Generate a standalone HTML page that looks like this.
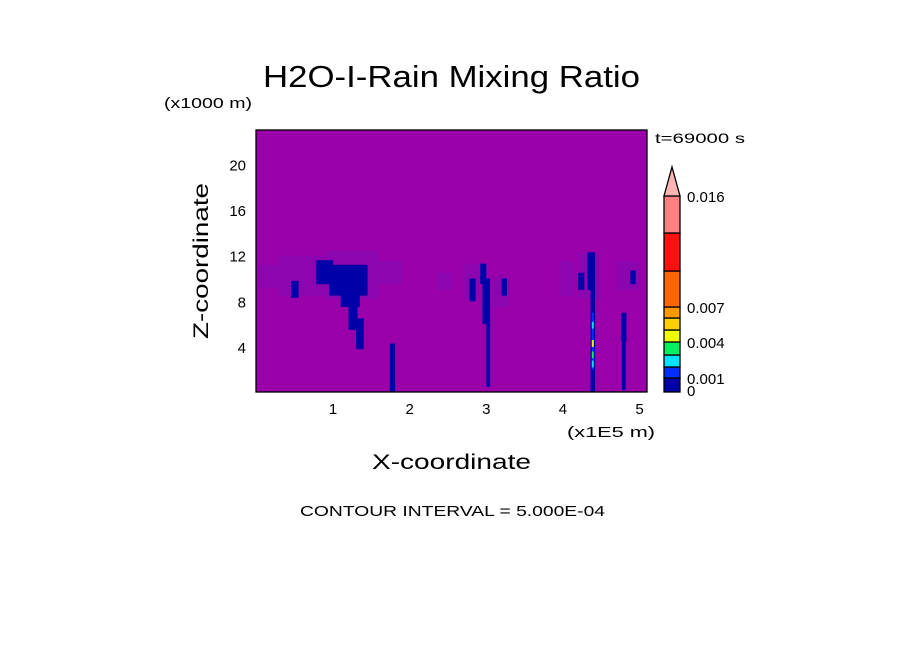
<!DOCTYPE html>
<html><head><meta charset="utf-8"><style>
html,body{margin:0;padding:0;background:#fff;}
svg{display:block;font-family:"Liberation Sans",sans-serif;}
</style></head><body>
<svg id="chart" width="904" height="654" viewBox="0 0 904 654">
<rect x="0" y="0" width="904" height="654" fill="#fff"/>
<text x="263" y="87" font-size="31" textLength="377" lengthAdjust="spacingAndGlyphs" fill="#000">H2O-I-Rain Mixing Ratio</text>
<text x="164" y="108" font-size="15" textLength="88" lengthAdjust="spacingAndGlyphs" fill="#000">(x1000 m)</text>
<text x="655" y="143" font-size="14" textLength="90" lengthAdjust="spacingAndGlyphs" fill="#000">t=69000 s</text>
<text transform="translate(208,261) rotate(-90)" font-size="21" text-anchor="middle" textLength="156" lengthAdjust="spacingAndGlyphs" fill="#000">Z-coordinate</text>
<text x="372" y="469" font-size="21" textLength="159" lengthAdjust="spacingAndGlyphs" fill="#000">X-coordinate</text>
<text x="567" y="437" font-size="15" textLength="88" lengthAdjust="spacingAndGlyphs" fill="#000">(x1E5 m)</text>
<text x="300" y="516" font-size="15" textLength="305" lengthAdjust="spacingAndGlyphs" fill="#000">CONTOUR INTERVAL = 5.000E-04</text>
<g id="plot"></g>
<g id="ticks"></g>
<g id="cbar"></g>
</svg>
<script>
const xTicks = [1,2,3,4,5];
const yTicks = [4,8,12,16,20];
// light (trace) regions: [x0,x1,z0,z1] in 1e5 m / km
const lightRegions = [[0,0.3,9.2,11.2],[0.3,0.9,8.5,12],[0.9,1.6,8.2,12.4],[1.6,1.9,9.5,11.5],[2.35,2.55,9,10.5],[2.7,2.9,8.3,11.3],[3.1,3.3,7.5,10.2],[3.95,4.15,8.5,11.5],[4.2,4.5,8.2,12.3],[4.7,5.0,9,11.5]];
// dark blue regions (0 - 0.001)
const darkRegions = [[0.45,0.55,8.3,9.8],[0.78,1.0,9.5,11.6],[0.95,1.45,8.5,11.2],[1.1,1.35,7.5,9.5],[1.2,1.32,5.5,8],[1.3,1.4,3.8,6.5],[1.74,1.81,0.1,4.3],[2.78,2.86,8,10],[2.92,3.0,9.5,11.3],[2.95,3.05,6,10],[3.0,3.05,0.5,6.5],[3.2,3.27,8.5,10],[4.2,4.28,9,10.5],[4.32,4.42,9,12.3],[4.36,4.42,0,9.5],[4.88,4.95,9.5,10.7],[4.77,4.82,0.2,5.2],[4.76,4.83,4.5,7]];
// higher-value cells: [x, z0, z1, levelIndex]
const hotCells = [[4.39,2,7,1],[4.39,5.6,6.2,2],[4.39,4.0,4.6,4],[4.39,3.0,3.6,3],[4.39,2.2,2.8,2]];
const levelColors = ["#0000a8","#0030ff","#00e0ff","#00f060","#f0ff00","#ffd000","#ff9900","#ff6600","#ff1010","#ff8080"];
const levelBounds = [0,0.001,0.002,0.003,0.004,0.005,0.006,0.007,0.01,0.013,0.016];
const cbLabels = [[0,"0"],[0.001,"0.001"],[0.004,"0.004"],[0.007,"0.007"],[0.016,"0.016"]];

const X0=256,X1=647,Y0=392,Y1=130;
const xs = v => 256.5 + v*76.6;
const ys = v => 392.5 - v*11.4;
const NS="http://www.w3.org/2000/svg";
function mk(tag, attrs, parent){const e=document.createElementNS(NS,tag);for(const k in attrs)e.setAttribute(k,attrs[k]);parent.appendChild(e);return e;}
const plot=document.getElementById('plot');
const bg=mk('rect',{x:X0,y:Y1,width:X1-X0,height:Y0-Y1,fill:"#9900aa"},plot);


const clip=mk('g',{},plot);
lightRegions.forEach(r=>{
  const e=mk('rect',{x:xs(r[0]),y:ys(r[3]),width:xs(r[1])-xs(r[0]),height:ys(r[2])-ys(r[3]),fill:"#8c06b0"},clip);
  
  
});
darkRegions.forEach(r=>{
  const e=mk('rect',{x:xs(r[0]),y:ys(r[3]),width:xs(r[1])-xs(r[0]),height:ys(r[2])-ys(r[3]),fill:levelColors[0]},clip);
  
  
});
hotCells.forEach(c=>{
  const e=mk('rect',{x:xs(c[0])-1,y:ys(c[2]),width:2,height:ys(c[1])-ys(c[2]),fill:levelColors[c[3]]},clip);
  
  
});
const fr=mk('rect',{x:X0,y:Y1,width:X1-X0,height:Y0-Y1,fill:"none",stroke:"#000","stroke-width":1.3},plot);



const tk=document.getElementById('ticks');
xTicks.forEach(v=>{
  const t=mk('text',{x:xs(v),y:414,"font-size":15,"text-anchor":"middle",fill:"#000"},tk);t.textContent=v;
  
  
});
yTicks.forEach(v=>{
  const t=mk('text',{x:246,y:ys(v)+6,"font-size":15,"text-anchor":"end",fill:"#000"},tk);t.textContent=v;
  
  
});

const cb=document.getElementById('cbar');
const CX=664,CW=16,CB=392,CT=196;
const bpos=[392,378,367,355,342,330,318,307,271,233,196];
const cs=v=>{for(let i=0;i<levelBounds.length-1;i++){if(v<=levelBounds[i+1]){const f=(v-levelBounds[i])/(levelBounds[i+1]-levelBounds[i]);return bpos[i]+f*(bpos[i+1]-bpos[i]);}}return CT;};
levelColors.forEach((c,i)=>{
  const y1=cs(levelBounds[i+1]),y0=cs(levelBounds[i]);
  const e=mk('rect',{x:CX,y:y1,width:CW,height:y0-y1,fill:c,stroke:"#000","stroke-width":1.3},cb);
  
  
});
const tri=mk('polygon',{points:`${CX},${CT} ${CX+CW},${CT} ${CX+CW/2},167`,fill:"#ffb4b4",stroke:"#000","stroke-width":1.3},cb);


cbLabels.forEach(l=>{
  let y=cs(l[0])+6; if(l[0]===0)y=cs(0)+4;
  const t=mk('text',{x:687,y:y,"font-size":15,fill:"#000"},cb);t.textContent=l[1];
  
  
});
</script>
</body></html>
